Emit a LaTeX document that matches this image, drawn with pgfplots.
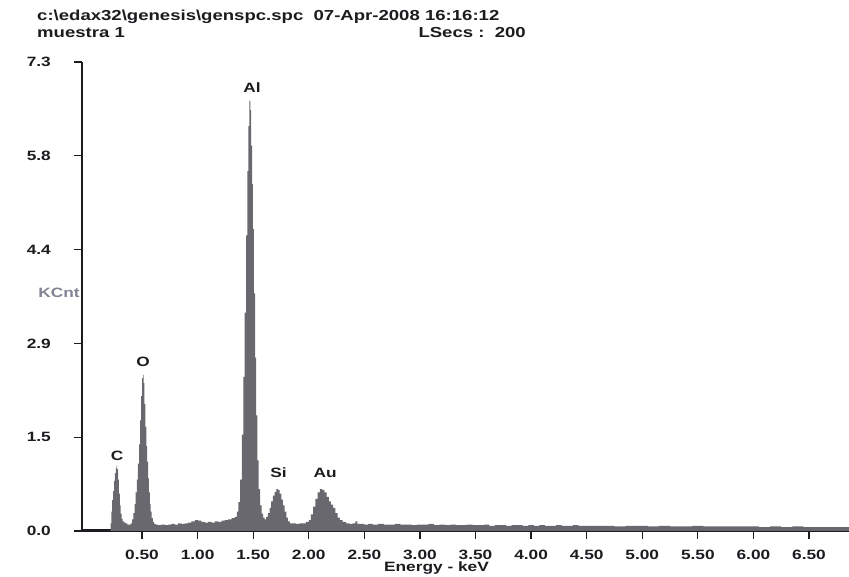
\documentclass[border=0pt]{standalone}
\usepackage{fontspec}
\setmainfont{Liberation Sans}[FakeStretch=1.28]
\usepackage{pgfplots}
\usepackage{pgfplotstable}
\pgfplotsset{compat=1.18}

\definecolor{specgray}{RGB}{104,104,110}
\definecolor{ink}{RGB}{28,28,32}
\definecolor{kcnt}{RGB}{128,132,148}

% EDS spectrum, energy (keV) vs counts (KCnt)
\pgfplotstableread{
x y
0.180 0
0.215 0
0.220 0.12
0.228 0.30
0.236 0.48
0.244 0.62
0.252 0.78
0.260 0.90
0.268 0.98
0.274 1.02
0.280 0.96
0.288 0.80
0.296 0.58
0.304 0.40
0.312 0.27
0.320 0.19
0.332 0.15
0.345 0.13
0.360 0.12
0.375 0.10
0.390 0.10
0.405 0.12
0.418 0.18
0.428 0.28
0.438 0.42
0.448 0.60
0.458 0.80
0.468 1.05
0.478 1.35
0.488 1.72
0.498 2.10
0.506 2.38
0.512 2.43
0.518 2.30
0.526 1.98
0.534 1.62
0.542 1.32
0.550 1.08
0.558 0.82
0.566 0.60
0.574 0.42
0.582 0.30
0.592 0.20
0.602 0.14
0.615 0.11
0.630 0.10
0.660 0.09
0.690 0.10
0.720 0.09
0.750 0.10
0.780 0.11
0.810 0.10
0.840 0.12
0.870 0.11
0.900 0.12
0.930 0.13
0.960 0.15
0.990 0.17
1.020 0.16
1.050 0.14
1.080 0.13
1.110 0.14
1.140 0.13
1.170 0.15
1.200 0.14
1.230 0.16
1.260 0.17
1.290 0.18
1.320 0.20
1.345 0.22
1.360 0.30
1.375 0.45
1.390 0.80
1.405 1.50
1.418 2.40
1.430 3.40
1.442 4.60
1.452 5.60
1.462 6.30
1.470 6.70
1.478 6.55
1.486 6.00
1.494 5.40
1.502 4.70
1.512 3.70
1.522 2.70
1.532 1.80
1.542 1.10
1.555 0.65
1.568 0.40
1.582 0.27
1.595 0.21
1.610 0.18
1.625 0.22
1.640 0.28
1.655 0.36
1.670 0.46
1.685 0.55
1.700 0.61
1.715 0.65
1.730 0.64
1.745 0.58
1.760 0.49
1.775 0.40
1.790 0.30
1.805 0.21
1.820 0.15
1.840 0.12
1.870 0.12
1.900 0.11
1.930 0.12
1.960 0.12
1.990 0.14
2.010 0.17
2.030 0.26
2.050 0.38
2.070 0.50
2.090 0.60
2.110 0.65
2.130 0.64
2.150 0.60
2.170 0.53
2.190 0.46
2.210 0.41
2.230 0.36
2.250 0.28
2.270 0.21
2.290 0.17
2.320 0.14
2.350 0.12
2.380 0.11
2.410 0.12
2.430 0.15
2.445 0.11
2.480 0.11
2.520 0.10
2.550 0.11
2.600 0.10
2.650 0.11
2.700 0.10
2.750 0.10
2.800 0.11
2.850 0.10
2.900 0.10
2.950 0.09
3.000 0.10
3.050 0.10
3.100 0.11
3.150 0.09
3.200 0.10
3.250 0.09
3.300 0.10
3.350 0.09
3.400 0.09
3.450 0.10
3.500 0.09
3.550 0.09
3.600 0.10
3.650 0.08
3.700 0.09
3.750 0.09
3.800 0.08
3.850 0.09
3.900 0.09
3.950 0.08
4.000 0.09
4.050 0.08
4.100 0.09
4.150 0.08
4.200 0.08
4.250 0.09
4.300 0.08
4.350 0.08
4.400 0.09
4.450 0.08
4.500 0.08
4.600 0.08
4.700 0.08
4.800 0.07
4.900 0.08
5.000 0.08
5.100 0.07
5.200 0.08
5.300 0.07
5.400 0.07
5.500 0.08
5.600 0.07
5.700 0.07
5.800 0.07
5.900 0.07
6.000 0.07
6.100 0.06
6.200 0.07
6.300 0.06
6.400 0.07
6.500 0.06
6.600 0.06
6.700 0.06
6.800 0.06
6.900 0.06
}\spectrum

\begin{document}
\begin{tikzpicture}[font=\bfseries, every node/.style={text=ink}]
\useasboundingbox (0,0) rectangle (849pt,577pt);

% header lines
\node[anchor=base west, inner sep=0pt, font=\bfseries\fontsize{14.5}{15}\selectfont] at (37pt,556pt)
  {c:\textbackslash edax32\textbackslash genesis\textbackslash genspc.spc\ \ 07-Apr-2008 16:16:12};
\node[anchor=base west, inner sep=0pt, font=\bfseries\fontsize{14.5}{15}\selectfont] at (37pt,539pt) {muestra 1};
\node[anchor=base east, inner sep=0pt, font=\bfseries\fontsize{14.5}{15}\selectfont] at (526pt,539pt) {LSecs :\ \ 200};

\begin{axis}[
  at={(82pt,46pt)}, anchor=south west,
  scale only axis, width=767pt, height=469pt,
  xmin=-0.04, xmax=6.86, ymin=0, ymax=7.3,
  axis x line*=bottom, axis y line*=left,
  x axis line style={-, line width=3pt, ink},
  y axis line style={-, line width=1.6pt, ink},
  clip mode=individual,
  xtick={0.5,1,...,6.5},
  xticklabels={0.50,1.00,1.50,2.00,2.50,3.00,3.50,4.00,4.50,5.00,5.50,6.00,6.50},
  ytick={0,1.46,2.92,4.38,5.84,7.3},
  yticklabels={0.0,1.5,2.9,4.4,5.8,7.3},
  minor tick num=0,
  tick align=outside, major tick length=8pt,
  tick style={ink, line width=1.2pt},
  /pgf/number format/assume math mode=true,
  ticklabel style={font=\bfseries\fontsize{13.5}{14}\selectfont, text=ink, inner sep=0pt},
  xticklabel style={anchor=north, yshift=-11pt},
  yticklabel style={anchor=east, xshift=-23pt},
]
\addplot[fill=specgray, draw=none, const plot mark mid] table[x=x, y=y] {\spectrum} \closedcycle;

\node[font=\bfseries\fontsize{13.5}{14}\selectfont] at (axis cs:0.275,1.17) {C};
\node[font=\bfseries\fontsize{13.5}{14}\selectfont] at (axis cs:0.509,2.63) {O};
\node[font=\bfseries\fontsize{13.5}{14}\selectfont] at (axis cs:1.49,6.90) {Al};
\node[font=\bfseries\fontsize{13.5}{14}\selectfont] at (axis cs:1.728,0.91) {Si};
\node[font=\bfseries\fontsize{13.5}{14}\selectfont] at (axis cs:2.148,0.90) {Au};
\end{axis}

% axis titles
\node[anchor=center, inner sep=0pt, text=kcnt, font=\bfseries\fontsize{13.5}{14}\selectfont] at (59pt,284pt) {KCnt};
\node[anchor=base, inner sep=0pt, font=\bfseries\fontsize{13.5}{14}\selectfont] at (436.5pt,5.3pt) {Energy - keV};
\end{tikzpicture}
\end{document}
